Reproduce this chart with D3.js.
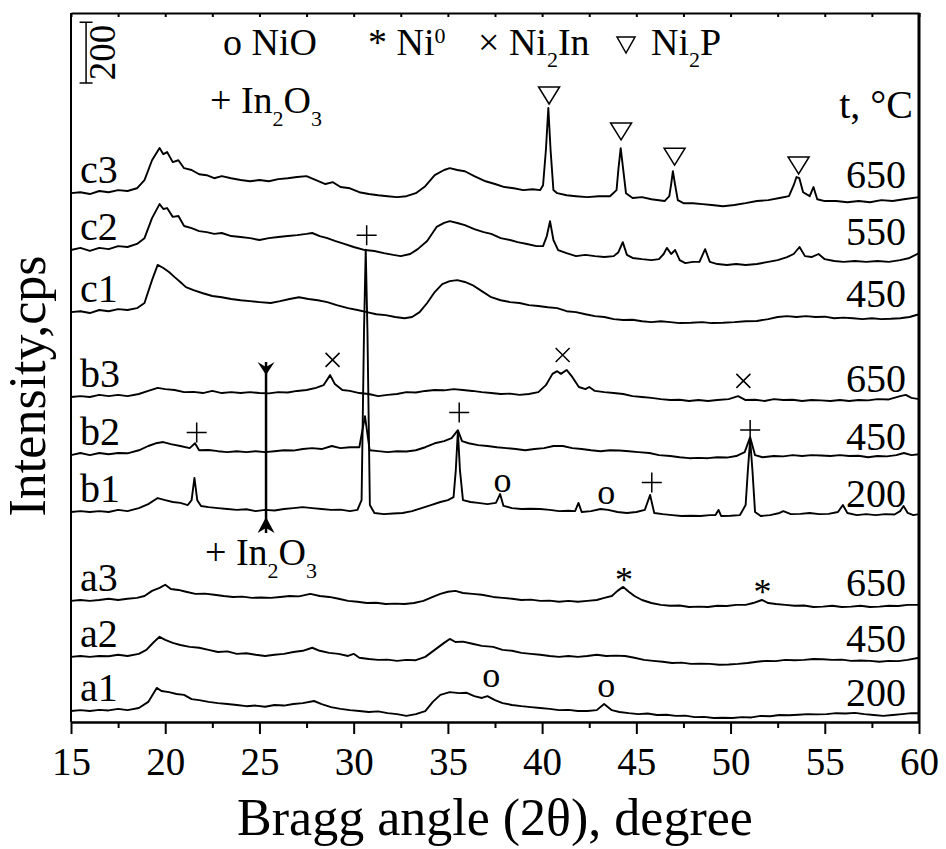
<!DOCTYPE html>
<html>
<head>
<meta charset="utf-8">
<script src="https://cdn.jsdelivr.net/npm/d3@7"></script>
<style>
body { margin: 0; background: #fff; }
svg text { font-family: "Liberation Serif", "Times New Roman", serif; fill: #000; }
.trace { fill: none; stroke: #000; stroke-width: 1.9; stroke-linejoin: round; }
.axis path, .axis line { stroke: #000; stroke-width: 2; }
.axis text { font-size: 39px; font-family: "Liberation Serif", "Times New Roman", serif; }
.mark { fill: none; stroke: #000; stroke-width: 1.5; }
</style>
</head>
<body>
<svg id="chart" width="946" height="849"></svg>
<script>
// XRD patterns, [2theta, intensity in cps above the trace baseline]
var a1 = [[15,0],[15.5,3],[16,0],[16.5,4],[17,2],[17.5,7],[18,3],[18.6,10],[19.1,30],[19.55,76],[19.8,66],[20.2,62],[20.6,56],[21,53],[21.4,39],[21.8,36],[22.3,30],[22.8,26],[23.3,23],[23.8,20],[24.3,16],[24.8,18],[25.3,14],[25.8,20],[26.3,18],[26.8,23],[27.3,26],[27.9,33],[28.3,23],[28.8,13],[29.3,7],[29.8,3],[30.3,0],[30.8,-3],[31.3,-1],[31.8,-7],[32.3,-10],[32.8,-16],[33.3,-10],[33.8,0],[34.2,30],[34.6,53],[35.1,62],[35.6,59],[36,60],[36.4,49],[36.8,43],[37.1,49],[37.5,36],[37.9,26],[38.4,20],[38.9,16],[39.4,13],[39.9,10],[40.4,7],[40.9,3],[41.4,4],[41.9,0],[42.4,0],[42.9,3],[43.29,23],[43.7,3],[44.1,-3],[44.6,-7],[45.1,-10],[45.6,-8],[46.1,-13],[46.6,-12],[47.1,-16],[47.6,-15],[48.1,-20],[48.6,-19],[49.1,-23],[49.6,-22],[50.1,-23],[50.6,-20],[51.1,-21],[51.6,-16],[52.1,-17],[52.6,-13],[53.1,-14],[53.6,-12],[54.1,-10],[54.6,-11],[55.1,-10],[55.6,-7],[56.1,-8],[56.6,-6],[57.1,-10],[57.6,-13],[58.1,-16],[58.6,-13],[59.1,-10],[59.6,-7],[60,-7]];
var a2 = [[15,0],[15.5,3],[16,0],[16.5,3],[17,2],[17.5,7],[18,3],[18.6,10],[19,23],[19.4,49],[19.7,66],[20,56],[20.4,46],[20.8,39],[21.3,33],[21.8,30],[22.3,23],[22.8,16],[23.3,18],[23.8,10],[24.3,12],[24.8,7],[25.3,3],[25.8,7],[26.3,10],[26.8,16],[27.3,20],[27.8,30],[28.2,20],[28.7,13],[29.2,10],[29.7,3],[30,10],[30.3,-3],[30.8,-7],[31.3,-10],[31.8,-9],[32.3,-13],[32.8,-10],[33.3,-11],[33.8,0],[34.3,23],[34.8,46],[35.1,59],[35.4,49],[35.8,50],[36.3,43],[36.8,36],[37.4,33],[37.9,23],[38.4,20],[38.9,13],[39.4,10],[39.9,7],[40.4,3],[40.9,0],[41.4,3],[41.9,0],[42.4,3],[42.9,7],[43.4,3],[43.9,4],[44.4,3],[44.9,-3],[45.4,-10],[45.9,-13],[46.4,-16],[46.9,-20],[47.4,-19],[47.9,-23],[48.4,-22],[48.9,-23],[49.4,-26],[49.9,-25],[50.4,-23],[50.9,-20],[51.4,-16],[51.9,-13],[52.4,-14],[52.9,-10],[53.4,-11],[53.9,-10],[54.4,-7],[54.9,-8],[55.4,-10],[55.9,-9],[56.4,-13],[56.9,-12],[57.4,-13],[57.9,-16],[58.4,-13],[58.9,-14],[59.4,-10],[60,-3]];
var a3 = [[15,0],[15.5,3],[16,0],[16.5,3],[17,7],[17.5,3],[18,7],[18.5,10],[18.9,16],[19.3,33],[19.7,43],[20,53],[20.3,39],[20.7,36],[21.1,30],[21.6,23],[22.1,24],[22.6,20],[23.1,16],[23.6,13],[24.1,14],[24.6,10],[25.1,11],[25.6,10],[26.1,13],[26.6,16],[27.1,15],[27.7,23],[28.2,16],[28.7,13],[29.2,7],[29.7,0],[30.2,-3],[30.7,-7],[31.2,-6],[31.7,-10],[32.2,-9],[32.7,-10],[33.2,-7],[33.7,0],[34.2,13],[34.6,23],[35,30],[35.4,33],[35.8,26],[36.3,23],[36.8,20],[37.4,13],[37.9,10],[38.4,7],[38.9,3],[39.4,4],[39.9,0],[40.4,1],[40.9,-3],[41.4,0],[41.9,-3],[42.4,0],[42.9,3],[43.3,10],[43.7,16],[44,33],[44.3,46],[44.6,30],[44.9,16],[45.3,3],[45.8,-7],[46.3,-13],[46.8,-16],[47.3,-15],[47.8,-20],[48.3,-19],[48.8,-20],[49.3,-16],[49.8,-17],[50.3,-13],[50.8,-13],[51.2,-7],[51.66,3],[52,-7],[52.4,-10],[52.9,-13],[53.4,-16],[53.9,-15],[54.4,-20],[54.9,-19],[55.4,-16],[55.9,-20],[56.4,-19],[56.9,-16],[57.4,-20],[57.9,-19],[58.4,-16],[58.9,-17],[59.4,-13],[60,-13]];
var b1 = [[15,0],[15.5,3],[16,0],[16.5,3],[17,0],[17.5,7],[18,3],[18.6,13],[19.1,26],[19.6,46],[20,39],[20.4,33],[20.8,30],[21.2,23],[21.4,39],[21.55,112],[21.7,39],[21.9,20],[22.3,16],[22.8,13],[23.3,10],[23.8,7],[24.3,9],[24.8,3],[25.3,7],[25.8,5],[26.3,10],[26.8,13],[27.3,16],[27.8,13],[28.3,10],[28.8,7],[29.3,8],[29.8,3],[30.2,7],[30.42,39],[30.55,599],[30.64,862],[30.73,599],[30.86,23],[31.1,-3],[31.6,-7],[32.1,-5],[32.6,-3],[33.1,3],[33.6,13],[34.1,23],[34.6,33],[35,39],[35.3,49],[35.42,138],[35.53,266],[35.64,138],[35.8,39],[36.2,33],[36.6,30],[37.1,26],[37.55,30],[37.77,59],[37.95,20],[38.4,13],[38.9,10],[39.4,11],[39.9,10],[40.4,7],[40.9,3],[41.4,4],[41.75,3],[41.93,30],[42.1,0],[42.6,3],[43.1,10],[43.5,7],[44,0],[44.5,-3],[45,0],[45.45,7],[45.73,56],[45.95,-3],[46.4,-7],[46.9,-10],[47.4,-13],[47.9,-12],[48.4,-13],[48.9,-10],[49.2,-10],[49.36,7],[49.5,-13],[50,-12],[50.5,-10],[50.8,23],[50.92,138],[51.04,237],[51.16,138],[51.3,0],[51.6,-13],[52.1,-10],[52.6,-3],[52.8,3],[53.2,-7],[53.7,-6],[54.2,-3],[54.7,-7],[55.2,-6],[55.7,0],[55.96,23],[56.2,-3],[56.7,-10],[57.2,-7],[57.7,-10],[58.2,-7],[58.7,-8],[59,3],[59.18,20],[59.4,-3],[59.7,-10],[60,-7]];
var b2 = [[15,0],[15.5,7],[16,0],[16.5,7],[17,3],[17.5,7],[18,6],[18.6,16],[19.1,30],[19.5,39],[19.9,43],[20.3,36],[20.8,30],[21.3,23],[21.58,39],[21.8,16],[22.3,17],[22.8,13],[23.3,10],[23.8,13],[24.3,10],[24.8,13],[25.3,10],[25.8,13],[26.3,16],[26.8,15],[27.3,20],[27.8,23],[28.3,20],[28.84,30],[29.3,23],[29.8,26],[30.3,26],[30.6,128],[30.85,16],[31.3,13],[31.8,10],[32.3,13],[32.8,12],[33.3,16],[33.8,26],[34.3,39],[34.8,46],[35.2,56],[35.53,82],[35.75,46],[36.1,39],[36.6,33],[37.1,30],[37.6,26],[38.1,23],[38.6,20],[39.1,16],[39.6,20],[40.1,23],[40.6,30],[41.1,30],[41.6,23],[42.1,20],[42.6,16],[43.1,13],[43.6,16],[44.1,15],[44.6,13],[45.1,10],[45.7,7],[46.2,0],[46.8,-3],[47.3,-7],[47.8,-10],[48.3,-9],[48.8,-10],[49.3,-7],[49.8,-8],[50.3,-3],[50.75,10],[51.04,59],[51.3,0],[51.7,-7],[52.3,-3],[52.8,-4],[53.3,0],[53.8,-3],[54.3,0],[54.8,-1],[55.3,-3],[55.8,0],[56.3,-3],[56.8,-2],[57.3,-7],[57.8,-3],[58.3,-4],[58.8,0],[59.2,7],[59.6,0],[60,3]];
var b3 = [[15,0],[15.5,3],[16,0],[16.5,7],[17,3],[17.5,7],[18,3],[18.6,10],[19.1,20],[19.6,30],[20,26],[20.5,23],[21,16],[21.5,17],[22,13],[22.5,20],[23,13],[23.5,16],[24,13],[24.5,16],[25,13],[25.5,12],[26,16],[26.5,15],[27,20],[27.5,23],[28,30],[28.4,39],[28.75,72],[29,43],[29.4,23],[29.8,20],[30.3,13],[30.8,10],[31.3,3],[31.8,7],[32.3,10],[32.8,16],[33.3,15],[33.8,20],[34.3,23],[34.8,22],[35.3,26],[35.8,23],[36.3,20],[36.8,16],[37.3,13],[37.8,10],[38.3,11],[38.8,7],[39.3,10],[39.8,16],[40.2,39],[40.55,76],[40.8,85],[41,76],[41.3,89],[41.6,66],[41.95,33],[42.3,26],[42.5,33],[42.8,20],[43.3,16],[43.8,13],[44.3,10],[44.8,3],[45.3,0],[45.8,-3],[46.3,-7],[46.8,-10],[47.3,-9],[47.8,-13],[48.3,-10],[48.8,-13],[49.3,-10],[49.9,-7],[50.4,3],[50.8,-10],[51.3,-9],[51.8,-13],[52.3,-7],[52.8,-10],[53.3,-9],[53.8,-13],[54.3,-10],[54.8,-11],[55.3,-13],[55.8,-10],[56.3,-13],[56.8,-10],[57.3,-11],[57.8,-7],[58.4,-8],[59,3],[59.3,7],[59.6,-3],[60,-7]];
var c1 = [[15,0],[15.5,3],[16,-3],[16.5,7],[17,3],[17.5,10],[18,7],[18.5,13],[18.9,30],[19.3,105],[19.6,155],[19.9,145],[20.2,132],[20.5,115],[20.8,99],[21.1,82],[21.5,72],[22,62],[22.5,53],[23,49],[23.5,43],[24,39],[24.5,36],[25,33],[25.6,30],[26.1,36],[26.6,43],[27.1,49],[27.6,43],[28.1,39],[28.6,33],[29.1,23],[29.7,13],[30.2,7],[30.7,0],[31.2,-7],[31.7,-10],[32.2,-16],[32.7,-20],[33.1,-16],[33.5,0],[33.9,30],[34.3,66],[34.7,92],[35.1,102],[35.5,105],[35.9,99],[36.3,89],[36.8,69],[37.3,49],[37.8,39],[38.3,33],[38.8,30],[39.3,23],[39.8,20],[40.3,16],[40.8,13],[41.3,3],[41.8,0],[42.3,-7],[42.8,-13],[43.3,-16],[43.8,-23],[44.3,-26],[44.8,-25],[45.3,-30],[45.8,-33],[46.3,-30],[46.8,-33],[47.3,-36],[47.9,-35],[48.5,-33],[49,-36],[49.6,-35],[50.2,-33],[50.8,-30],[51.4,-29],[52,-23],[52.5,-16],[53,-13],[53.5,-16],[54,-13],[54.5,-16],[55,-15],[55.5,-20],[56,-18],[56.5,-20],[57,-23],[57.5,-20],[58,-23],[58.5,-22],[59,-20],[59.5,-16],[60,-7]];
var c2 = [[15,0],[15.5,7],[16,-3],[16.5,7],[17,3],[17.5,13],[18,10],[18.5,20],[18.9,39],[19.3,105],[19.7,151],[19.9,135],[20.1,138],[20.4,109],[20.7,112],[21,79],[21.4,72],[21.8,62],[22.2,59],[22.6,53],[23,56],[23.5,46],[24,43],[24.5,39],[25,33],[25.5,39],[26,43],[26.5,46],[27,49],[27.5,53],[27.8,56],[28.2,46],[28.6,39],[29,30],[29.5,20],[30,10],[30.6,0],[31.1,-3],[31.6,-10],[32.1,-16],[32.5,-20],[33,-13],[33.4,3],[33.9,30],[34.4,76],[34.8,89],[35.1,95],[35.5,89],[35.9,82],[36.4,69],[36.9,59],[37.3,53],[37.8,39],[38.3,33],[38.7,26],[39.2,20],[39.7,13],[40.05,13],[40.25,46],[40.42,95],[40.6,33],[40.85,0],[41.3,-10],[41.8,-20],[42.3,-16],[42.8,-20],[43.3,-23],[43.8,-20],[44.05,-7],[44.28,26],[44.5,-16],[44.8,-26],[45.3,-30],[45.8,-33],[46.2,-30],[46.45,-13],[46.62,7],[46.85,-13],[47.06,0],[47.3,-33],[47.6,-43],[48,-39],[48.35,-39],[48.65,3],[48.9,-39],[49.3,-46],[49.8,-49],[50.3,-46],[50.8,-49],[51.4,-46],[52,-39],[52.5,-33],[53,-23],[53.35,-13],[53.66,10],[53.95,-20],[54.3,-23],[54.67,-13],[55,-30],[55.5,-36],[56,-39],[56.6,-36],[57.2,-39],[57.8,-36],[58.4,-39],[59,-33],[59.5,-26],[60,-10]];
var c3 = [[15,0],[15.5,3],[16,-3],[16.5,7],[17,3],[17.5,10],[18,7],[18.5,16],[18.9,43],[19.3,108],[19.7,148],[19.9,128],[20.1,135],[20.4,102],[20.7,108],[21,82],[21.4,76],[21.8,62],[22.2,59],[22.6,49],[23,56],[23.5,49],[24,43],[24.5,39],[25,43],[25.5,39],[26,46],[26.5,49],[27,53],[27.5,56],[28,43],[28.5,30],[28.9,36],[29.3,20],[29.8,16],[30.3,3],[30.8,-3],[31.3,-7],[31.8,-10],[32.3,-13],[32.8,-10],[33.3,0],[33.8,23],[34.3,59],[34.8,76],[35.1,82],[35.5,76],[35.9,72],[36.4,56],[37,39],[37.5,30],[38,20],[38.5,16],[39,10],[39.5,13],[39.9,10],[40.05,26],[40.2,141],[40.33,280],[40.45,141],[40.6,10],[40.8,0],[41.3,-7],[41.8,-10],[42.4,-13],[43,-10],[43.6,-10],[43.95,10],[44.05,80],[44.17,148],[44.3,80],[44.45,0],[44.8,-16],[45.3,-13],[45.8,-20],[46.5,-26],[46.75,-10],[46.85,30],[46.94,72],[47.05,30],[47.2,-23],[47.5,-33],[48,-33],[48.5,-36],[49,-39],[49.6,-43],[50.2,-39],[50.8,-33],[51.4,-26],[52,-23],[52.6,-16],[53.1,-10],[53.35,26],[53.5,53],[53.65,49],[53.85,3],[54.2,-10],[54.4,20],[54.6,-20],[55,-26],[55.6,-26],[56.2,-30],[56.8,-26],[57.4,-30],[58,-23],[58.6,-26],[59.2,-20],[60,-13]];

var traces = [a1, a2, a3, b1, b2, b3, c1, c2, c3];
var traceNames = ['a1', 'a2', 'a3', 'b1', 'b2', 'b3', 'c1', 'c2', 'c3'];
var temps = ['200', '450', '650', '200', '450', '650', '450', '550', '650'];
var offsets = [36, 214, 398, 690, 877, 1068, 1347, 1551, 1738];

// phase marks [2theta, cps]
var plusMarks = [[30.69, 1600], [21.67, 951], [35.6, 1017], [51.04, 960], [45.82, 787]];
var crossMarks = [[28.88, 1190], [41.09, 1206], [50.68, 1121]];
var triMarks = [[40.37, 2031], [44.19, 1913], [47.03, 1830], [53.61, 1801]];
var nioMarks = [[37.9, 756], [43.4, 716], [37.3, 116], [43.4, 83]];
var ni0Marks = [[44.35, 427], [51.7, 388]];
var arrowSpan = [25.35, 1183, 621];
var scaleBar = [15.8, 2100, 2300];

var xTicks = [15, 20, 25, 30, 35, 40, 45, 50, 55, 60];
var xMinor = [17.5, 22.5, 27.5, 32.5, 37.5, 42.5, 47.5, 52.5, 57.5];

var margin = {left: 71, right: 27, top: 13, bottom: 127};
var width = 946 - margin.left - margin.right;
var height = 849 - margin.top - margin.bottom;

var x = d3.scaleLinear().domain([15, 60]).range([0, width]);
var y = d3.scaleLinear().domain([0, 2330]).range([height, 0]);

var svg = d3.select('#chart');
var g = svg.append('g')
    .attr('transform', 'translate(' + margin.left + ',' + margin.top + ')');

var line = d3.line()
    .x(function(d) { return x(d[0]); })
    .y(function(d) { return y(d[1]); });

traces.forEach(function(t, i) {
    g.append('path')
        .attr('class', 'trace')
        .attr('d', line(t.map(function(d) { return [d[0], d[1] + offsets[i]]; })));
    g.append('text')
        .attr('x', 9)
        .attr('y', y(offsets[i]) - 10)
        .attr('font-size', 40)
        .text(traceNames[i]);
    g.append('text')
        .attr('x', width - 13)
        .attr('y', y(offsets[i]) - 5)
        .attr('text-anchor', 'end')
        .attr('font-size', 40)
        .text(temps[i]);
});

// axes
g.append('g')
    .attr('class', 'axis')
    .attr('transform', 'translate(0,' + height + ')')
    .call(d3.axisBottom(x).tickValues(xTicks).tickSize(12).tickSizeOuter(0).tickPadding(13).tickFormat(d3.format('d')));
g.append('g')
    .attr('class', 'axis')
    .attr('transform', 'translate(0,' + height + ')')
    .call(d3.axisBottom(x).tickValues(xMinor).tickSize(6).tickSizeOuter(0).tickFormat(''));
g.append('g')
    .attr('class', 'axis')
    .call(d3.axisTop(x).tickValues(xTicks.concat(xMinor)).tickSize(-4).tickSizeOuter(0).tickFormat(''));
g.append('line')
    .attr('x1', 0).attr('x2', 0).attr('y1', 0).attr('y2', height)
    .attr('stroke', '#000').attr('stroke-width', 2);
g.append('line')
    .attr('x1', width).attr('x2', width).attr('y1', 0).attr('y2', height)
    .attr('stroke', '#000').attr('stroke-width', 3);

// axis titles
svg.append('text')
    .attr('x', margin.left + width / 2)
    .attr('y', 835)
    .attr('text-anchor', 'middle')
    .attr('font-size', 52)
    .text('Bragg angle (2θ), degree');
svg.append('text')
    .attr('transform', 'translate(45,386) rotate(-90)')
    .attr('text-anchor', 'middle')
    .attr('font-size', 52)
    .text('Intensity,cps');

// marks
g.selectAll('.plus').data(plusMarks).enter().append('path')
    .attr('class', 'mark')
    .attr('d', function(d) {
        var px = x(d[0]), py = y(d[1]);
        return 'M' + (px - 10) + ',' + py + 'H' + (px + 10) + 'M' + px + ',' + (py - 10) + 'V' + (py + 10);
    });
g.selectAll('.cross').data(crossMarks).enter().append('path')
    .attr('class', 'mark')
    .attr('d', function(d) {
        var px = x(d[0]), py = y(d[1]);
        return 'M' + (px - 7) + ',' + (py - 7) + 'L' + (px + 7) + ',' + (py + 7) +
            'M' + (px + 7) + ',' + (py - 7) + 'L' + (px - 7) + ',' + (py + 7);
    });
g.selectAll('.tri').data(triMarks).enter().append('path')
    .attr('class', 'mark')
    .attr('d', function(d) {
        var px = x(d[0]), py = y(d[1]);
        return 'M' + px + ',' + py + 'L' + (px - 10.5) + ',' + (py - 17) + 'H' + (px + 10.5) + 'Z';
    });
g.selectAll('.nio').data(nioMarks).enter().append('text')
    .attr('x', function(d) { return x(d[0]); })
    .attr('y', function(d) { return y(d[1]); })
    .attr('text-anchor', 'middle')
    .attr('font-size', 36)
    .text('o');
g.selectAll('.ni0').data(ni0Marks).enter().append('text')
    .attr('x', function(d) { return x(d[0]); })
    .attr('y', function(d) { return y(d[1]); })
    .attr('text-anchor', 'middle')
    .attr('font-size', 36)
    .text('*');

// double arrow
var ax = x(arrowSpan[0]), ay1 = y(arrowSpan[1]), ay2 = y(arrowSpan[2]);
g.append('line')
    .attr('x1', ax).attr('x2', ax).attr('y1', ay1).attr('y2', ay2)
    .attr('stroke', '#000').attr('stroke-width', 2.5);
g.append('path')
    .attr('d', 'M' + ax + ',' + (ay1 + 13) + 'L' + (ax - 8.5) + ',' + ay1 + 'L' + ax + ',' + (ay1 + 5) + 'L' + (ax + 8.5) + ',' + ay1 + 'Z');
g.append('path')
    .attr('d', 'M' + ax + ',' + (ay2 - 16) + 'L' + (ax - 8.5) + ',' + ay2 + 'L' + ax + ',' + (ay2 - 5) + 'L' + (ax + 8.5) + ',' + ay2 + 'Z');

// scale bar
var sx = x(scaleBar[0]), sy1 = y(scaleBar[1]), sy2 = y(scaleBar[2]);
g.append('path')
    .attr('class', 'mark')
    .attr('stroke-width', 2)
    .attr('d', 'M' + sx + ',' + sy1 + 'V' + sy2 + 'M' + (sx - 6.5) + ',' + sy1 + 'H' + (sx + 6.5) + 'M' + (sx - 6.5) + ',' + sy2 + 'H' + (sx + 6.5));
g.append('text')
    .attr('transform', 'translate(' + (sx + 29) + ',' + y((scaleBar[1] + scaleBar[2]) / 2) + ') rotate(-90)')
    .attr('text-anchor', 'middle')
    .attr('font-size', 37)
    .text('200');

// legend
function phaseLabel(px, py, parts) {
    var t = svg.append('text').attr('x', px).attr('y', py).attr('font-size', 38);
    var shift = 0;
    parts.forEach(function(p) {
        var dy = p[1] - shift;
        shift = p[1];
        t.append('tspan')
            .attr('dy', dy)
            .attr('font-size', p[1] === 0 ? 38 : 22)
            .text(p[0]);
    });
}
phaseLabel(223, 55, [['o NiO', 0]]);
phaseLabel(368, 55, [['* Ni', 0], ['0', -12]]);
phaseLabel(478, 55, [['× Ni', 0], ['2', 12], ['In', 0]]);
phaseLabel(651, 55, [['Ni', 0], ['2', 12], ['P', 0]]);
phaseLabel(210, 113, [['+ In', 0], ['2', 13], ['O', 0], ['3', 13]]);
phaseLabel(205, 565, [['+ In', 0], ['2', 13], ['O', 0], ['3', 13]]);
svg.append('path')
    .attr('class', 'mark')
    .attr('d', 'M626,53L617,37H635Z');
svg.append('text')
    .attr('x', 913)
    .attr('y', 118)
    .attr('text-anchor', 'end')
    .attr('font-size', 40)
    .text('t, °C');
</script>
</body>
</html>
